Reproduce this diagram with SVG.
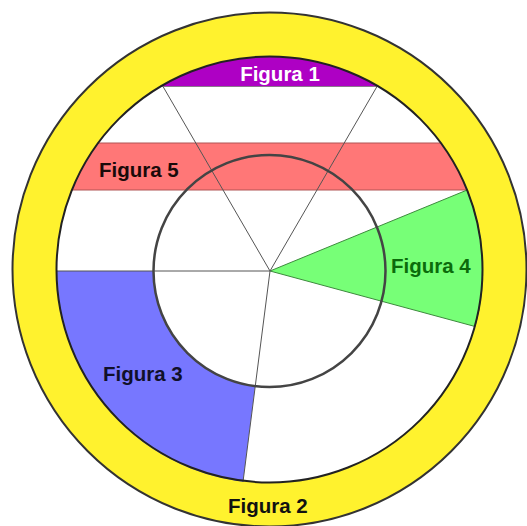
<svg xmlns="http://www.w3.org/2000/svg" width="527" height="526" viewBox="0 0 527 526">
<style>
.lbl{font-family:"Liberation Sans",Arial,sans-serif;font-weight:bold;font-size:20.5px}
.spoke{stroke:#555;stroke-width:1;fill:none}
</style>
<rect width="527" height="526" fill="#fff"/>
<g id="figura2">
<circle cx="269.5" cy="269.5" r="257" fill="#FFF22E" stroke="#333" stroke-width="2"/>
<circle cx="269.5" cy="269.5" r="213" fill="#fff"/>
</g>
<g id="figura5">
<path d="M98.1,143 L440.9,143 A213,213 0 0,1 467.1,190 L71.9,190 A213,213 0 0,1 98.1,143 Z" fill="#FF7777"/>
<line x1="98.1" y1="143" x2="440.9" y2="143" stroke="#B05555" stroke-width="1"/>
<line x1="71.9" y1="190" x2="467.1" y2="190" stroke="#B05555" stroke-width="1"/>
</g>
<g id="figura4">
<path d="M270,271 L467.1,190 A213,213 0 0,1 475,326.5 Z" fill="#77FF77" stroke="#3E8A3E" stroke-width="1"/>
</g>
<g id="figura3">
<path d="M56.5,271 L153.5,271 A116,116 0 0,0 255.2,386.1 L243,481.8 A213,213 0 0,1 56.5,271 Z" fill="#7777FF"/>
</g>
<g id="figura1">
<path d="M160.5,86.5 L378.5,86.5 A213,213 0 0,0 160.5,86.5 Z" fill="#AE00C4"/>
</g>
<g id="lines">
<line class="spoke" x1="270" y1="271" x2="163" y2="86.5"/>
<line class="spoke" x1="270" y1="271" x2="377" y2="86.5"/>
<line class="spoke" x1="56.5" y1="271" x2="270" y2="271"/>
<line class="spoke" x1="270" y1="271" x2="243" y2="481.8"/>
<line x1="160.5" y1="86.5" x2="378.5" y2="86.5" stroke="#777" stroke-width="0.8"/>
</g>
<g id="circles">
<circle cx="269.5" cy="271" r="116" fill="none" stroke="#444" stroke-width="2.5"/>
<circle cx="269.5" cy="269.5" r="213" fill="none" stroke="#222" stroke-width="2"/>
</g>
<g id="labels">
<text class="lbl" x="280" y="81" text-anchor="middle" fill="#fff">Figura 1</text>
<text class="lbl" x="99" y="177" fill="#1a0a0a">Figura 5</text>
<text class="lbl" x="391" y="273" fill="#0B6B0B">Figura 4</text>
<text class="lbl" x="103" y="381" fill="#10102A">Figura 3</text>
<text class="lbl" x="228" y="513" fill="#111">Figura 2</text>
</g>
</svg>
